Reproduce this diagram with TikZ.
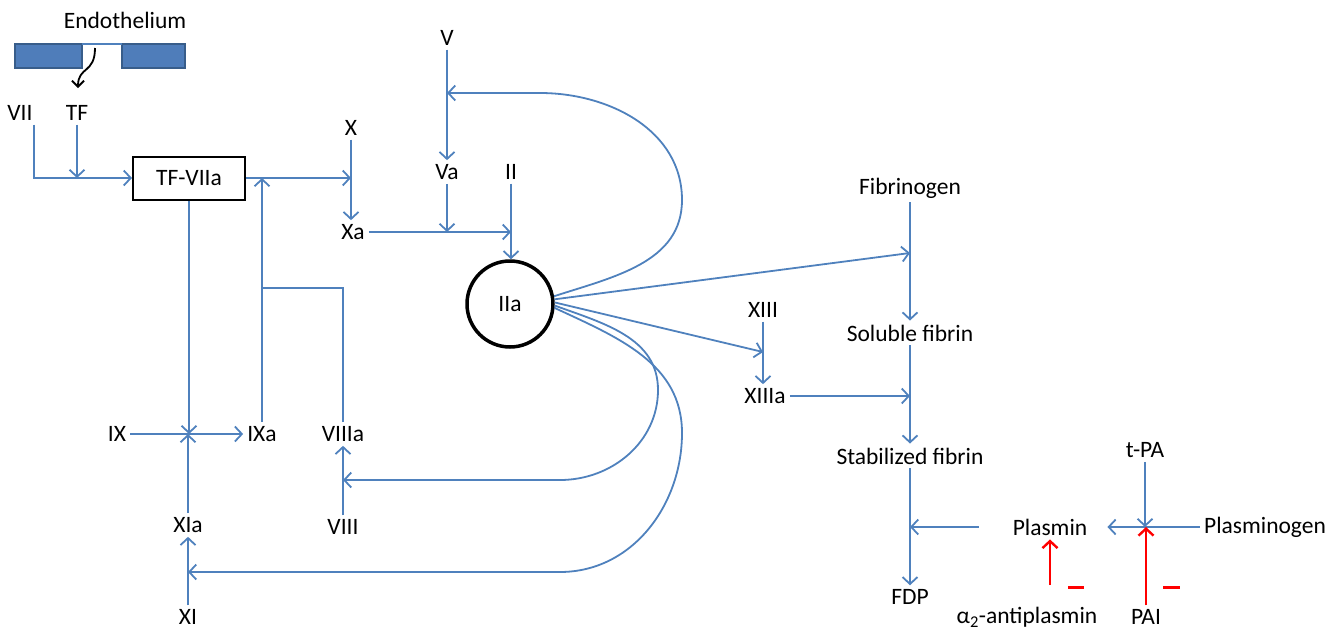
\documentclass[tikz,border=0pt]{standalone}
\usepackage{fontspec}
\setmainfont{Carlito}
\usepackage{xcolor}
\usepackage{tikz}
\usetikzlibrary{arrows.meta}
\definecolor{flowblue}{HTML}{4F81BD}
\definecolor{endofill}{HTML}{4F7DBA}
\definecolor{endodraw}{HTML}{385D8A}

\begin{document}
\begin{tikzpicture}[x=1pt, y=1pt, font=\fontsize{23.5}{28}\selectfont,
	flow/.style={draw=flowblue, line width=1.8pt, -{Straight Barb[length=7pt,width=15pt]}},
	link/.style={draw=flowblue, line width=1.8pt},
	inhib/.style={draw=red, line width=2.4pt, -{Straight Barb[length=7pt,width=15pt]}},
	lab/.style={inner sep=4pt}]
	\useasboundingbox (0,0) rectangle (1342,-632);
	\foreach \nm/\lab/\x/\y in {VII/VII/20/113, TF/TF/77/113, X/X/351/128, Xa/Xa/353/232, V/V/447/38, Va/Va/447/172, II/II/511/172, IX/IX/117/434, IXa/IXa/262/434, VIIIa/VIIIa/343/434, XIa/XIa/188/525, XI/XI/188/617, VIII/VIII/343/527, XIII/XIII/763/310, XIIIa/XIIIa/765/396, fib/Fibrinogen/910/188, sfib/Soluble fibrin/910/333, stfib/Stabilized fibrin/910/456, fdp/FDP/910/597, plasmin/Plasmin/1050/527, plg/Plasminogen/1265/527, tpa/t-PA/1145/450, pai/PAI/1146/617}
	{
		\node[lab](\nm) at (\x,-\y){\lab};
	}
	\node[lab](anti) at (1027,-617){α\textsubscript{2}-antiplasmin};
	\node(endo) at (125,-20){Endothelium};
	\node[draw, line width=2pt, minimum width=112pt, minimum height=43pt](tfv) at (189,-178){TF-VIIa};
	\node[circle, draw, line width=3.5pt, minimum size=86pt](IIa) at (510,-304){IIa};
	\draw[fill=endofill, draw=endodraw, line width=1.5pt](15,-44) rectangle (82,-68);
	\draw[fill=endofill, draw=endodraw, line width=1.5pt](122,-44) rectangle (185,-68);
	\draw[draw=flowblue, line width=1.3pt](82,-44) -- (122,-44);
	\draw[line width=1.8pt, -{Straight Barb[length=6pt,width=12pt]}](95,-48) .. controls (95,-74) and (78,-66) .. (78,-88);
	\draw[flow]([xshift=-3pt]VII.south east) |- (tfv.west);
	\draw[flow](TF) -- (TF |- tfv.west);
	\draw[flow](tfv.east) -- (tfv.east -| X.south);
	\draw[flow](X) -- (X |- Xa.north);
	\draw[flow](IXa) -- (IXa |- tfv.east);
	\draw[link](VIIIa.north) |- (IXa |- 0,-288);
	\draw[flow](tfv.south) -- (tfv.south |- IX);
	\draw[flow](IX) -- (IXa);
	\draw[flow](XIa) -- (XIa |- IX);
	\draw[flow](XI) -- (XIa);
	\draw[flow](VIII) -- (VIIIa);
	\draw[flow](V) -- (Va);
	\draw[flow](Va) -- (Va |- Xa);
	\draw[flow](Xa) -- (Xa -| II);
	\draw[flow](II) -- (II |- IIa.north);
	\draw[flow](IIa.10) to[out=18, in=-90] (682,-200) to[out=90, in=0] (540,-93) -- (V |- 0,-93);
	\draw[flow](IIa.6) -- (fib |- 0,-253);
	\draw[flow](IIa.2) -- (XIII |- 0,-352);
	\draw[flow](IIa.-2) to[out=-20, in=90] (658,-390) to[out=-90, in=0] (560,-480) -- (VIII |- 0,-480);
	\draw[flow](IIa.-5) to[out=-25, in=90] (682,-433) to[out=-90, in=0] (560,-572) -- (XI |- 0,-572);
	\draw[flow](fib) -- (sfib);
	\draw[flow](XIII) -- (XIII |- XIIIa.north);
	\draw[flow](XIIIa) -- (XIIIa -| sfib);
	\draw[flow](sfib) -- (stfib);
	\draw[flow](stfib) -- (fdp);
	\draw[flow]([xshift=-30pt]plasmin.west) -- (plasmin -| fdp);
	\draw[flow](tpa) -- (tpa |- plg);
	\draw[flow, shorten >=16pt](plg) -- (plasmin);
	\draw[inhib](plasmin |- 0,-585) -- (plasmin.south);
	\draw[inhib](pai) -- (pai |- plasmin);
	\draw[red, line width=3pt](1068,-587) -- (1084,-587);
	\draw[red, line width=3pt](1163,-587) -- (1180,-587);
\end{tikzpicture}
\end{document}
